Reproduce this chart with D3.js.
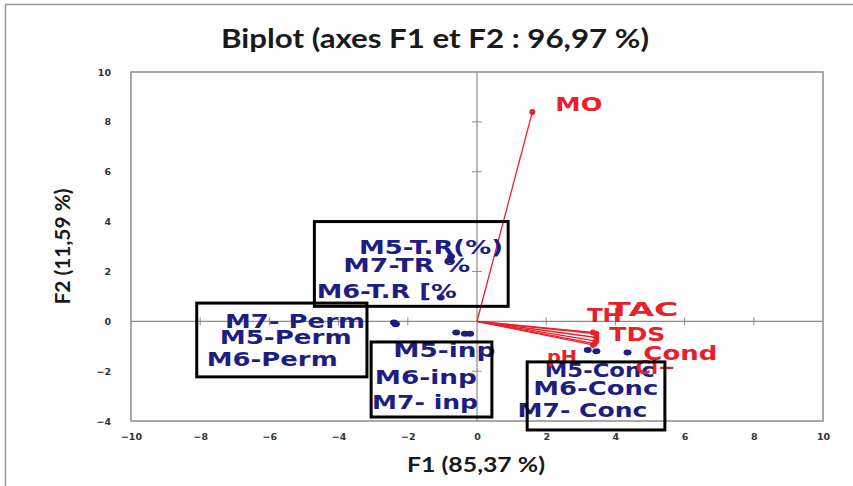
<!DOCTYPE html>
<html>
<head>
<meta charset="utf-8">
<script src="https://cdn.jsdelivr.net/npm/d3@7"></script>
<style>
  body { margin: 0; background: #fff; }
  svg { display: block; }
</style>
</head>
<body>
<svg id="chart" width="853" height="486"></svg>
<script>
// PCA biplot: observation scores (blue) and variable loadings (red) on F1/F2

// Observations
const obsNames = ["M5-T.R(%)", "M7-TR %", "M6-T.R [%", "M7- Perm", "M5-Perm", "M6-Perm",
                  "M5-inp", "M6-inp", "M7- inp", "M5-Conc", "M6-Conc", "M7- Conc"];
const obsF1 = [-0.75, -0.8, -1.05, -2.4, -2.35, -2.35, -0.6, -0.35, -0.2, 3.2, 3.45, 4.35];
const obsF2 = [2.6, 2.45, 0.95, -0.05, -0.1, -0.12, -0.45, -0.5, -0.5, -1.15, -1.2, -1.25];

// Variables
const varNames = ["MO", "TH", "TAC", "TDS", "Cond", "Cl−", "pH"];
const varF1 = [1.6, 3.35, 3.45, 3.45, 3.45, 3.4, 3.35];
const varF2 = [8.4, -0.45, -0.5, -0.65, -0.8, -0.9, -0.95];

// Axis ticks
const xTicks = [-10, -8, -6, -4, -2, 0, 2, 4, 6, 8, 10];
const yTicks = [-4, -2, 0, 2, 4, 6, 8, 10];

// Group frames, in F1/F2 units
const groupNames = ["T.R", "Perm", "inp", "Conc"];
const groupF1Min = [-4.7, -8.1, -3.06, 1.45];
const groupF1Max = [0.9, -3.18, 0.43, 5.43];
const groupF2Min = [0.6, -2.23, -3.84, -4.36];
const groupF2Max = [4.0, 0.73, -0.83, -1.63];

const titleText = "Biplot (axes F1 et F2 : 96,97 %)";
const xTitle = "F1 (85,37 %)";
const yTitle = "F2 (11,59 %)";

// Label placement (pixel offsets from each mark, rendered text width)
const obsLabelLayout = [
  { dx: -92, dy: -2, w: 144 }, { dx: -106, dy: 12, w: 127 }, { dx: -124, dy: 0, w: 140 },
  { dx: -169, dy: 5, w: 140 }, { dx: -176, dy: 20, w: 132 }, { dx: -189, dy: 42, w: 131 },
  { dx: -63, dy: 24, w: 102 }, { dx: -90, dy: 50, w: 102 }, { dx: -98, dy: 75, w: 106 },
  { dx: -43, dy: 27, w: 110 }, { dx: -63, dy: 44, w: 125 }, { dx: -110, dy: 65, w: 130 }
];
const varLabelLayout = [
  { dx: 23, dy: -1, w: 47 }, { dx: -6, dy: -11, w: 35 }, { dx: 12, dy: -18, w: 70 },
  { dx: 13, dy: 4, w: 56 }, { dx: 47, dy: 19, w: 74 }, { dx: 41, dy: 30, w: 40 },
  { dx: -46, dy: 18, w: 30 }
];

const svg = d3.select("#chart");
const W = 853, H = 486;
const plot = { left: 131, right: 823, top: 72, bottom: 421 };

const x = d3.scaleLinear().domain([-10, 10]).range([plot.left, plot.right]);
const y = d3.scaleLinear().domain([-4, 10]).range([plot.bottom, plot.top]);

const navy = "#1e1e82";
const red = "#e8202a";
const grey = "#8c8c8c";

// outer frame
svg.append("rect").attr("x", 5.5).attr("y", 4.5).attr("width", W + 10).attr("height", H + 10)
  .attr("fill", "none").attr("stroke", "#9a9a9a").attr("stroke-width", 1.5);

// title
svg.append("text").attr("x", 435).attr("y", 48).attr("text-anchor", "middle")
  .attr("textLength", 428).attr("lengthAdjust", "spacingAndGlyphs")
  .attr("font-family", "Lato, sans-serif").attr("font-weight", "bold").attr("font-size", 26)
  .attr("fill", "#1a1a1a").text(titleText);

// plot frame
svg.append("rect").attr("x", plot.left).attr("y", plot.top)
  .attr("width", plot.right - plot.left).attr("height", plot.bottom - plot.top)
  .attr("fill", "none").attr("stroke", grey).attr("stroke-width", 1.5);

// zero lines
svg.append("line").attr("x1", x(0)).attr("x2", x(0)).attr("y1", plot.top).attr("y2", plot.bottom)
  .attr("stroke", grey).attr("stroke-width", 1.2);
svg.append("line").attr("x1", plot.left).attr("x2", plot.right).attr("y1", y(0)).attr("y2", y(0))
  .attr("stroke", grey).attr("stroke-width", 1.2);

// tick marks crossing the zero lines
svg.append("g").selectAll("line").data(xTicks.filter(d => d !== 0 && d !== -10 && d !== 10)).join("line")
  .attr("x1", d => x(d)).attr("x2", d => x(d)).attr("y1", y(0) - 4).attr("y2", y(0) + 4)
  .attr("stroke", grey).attr("stroke-width", 1);
svg.append("g").selectAll("line").data(yTicks.filter(d => d !== 0 && d !== -4 && d !== 10)).join("line")
  .attr("x1", x(0) - 5).attr("x2", x(0) + 5).attr("y1", d => y(d)).attr("y2", d => y(d))
  .attr("stroke", grey).attr("stroke-width", 1);

// tick labels at the frame edges
const xAxis = d3.axisBottom(x).tickValues(xTicks).tickSize(0).tickPadding(10).tickFormat(d3.format("d"));
const gx = svg.append("g").attr("transform", `translate(0,${plot.bottom + 2})`).call(xAxis);
gx.select(".domain").remove();
gx.selectAll("text").attr("font-family", "'DejaVu Sans', sans-serif").attr("font-weight", "bold")
  .attr("font-size", 9.5).attr("fill", "#333");

const yAxis = d3.axisLeft(y).tickValues(yTicks).tickSize(0).tickPadding(20).tickFormat(d3.format("d"));
const gy = svg.append("g").attr("transform", `translate(${plot.left},0)`).call(yAxis);
gy.select(".domain").remove();
gy.selectAll("text").attr("font-family", "'DejaVu Sans', sans-serif").attr("font-weight", "bold")
  .attr("font-size", 9.5).attr("fill", "#333");

// axis titles
svg.append("text").attr("x", 476).attr("y", 472).attr("text-anchor", "middle")
  .attr("textLength", 138).attr("lengthAdjust", "spacingAndGlyphs")
  .attr("font-family", "Lato, sans-serif").attr("font-weight", "bold").attr("font-size", 21)
  .attr("fill", "#1a1a1a").text(xTitle);
svg.append("text").attr("transform", `translate(70,${y(3)}) rotate(-90)`).attr("text-anchor", "middle")
  .attr("textLength", 116).attr("lengthAdjust", "spacingAndGlyphs")
  .attr("font-family", "Lato, sans-serif").attr("font-weight", "bold").attr("font-size", 21)
  .attr("fill", "#1a1a1a").text(yTitle);

// variable vectors
const vars = varNames.map((n, i) => ({ name: n, f1: varF1[i], f2: varF2[i], lay: varLabelLayout[i] }));
svg.append("g").selectAll("line").data(vars).join("line")
  .attr("x1", x(0)).attr("y1", y(0)).attr("x2", d => x(d.f1)).attr("y2", d => y(d.f2))
  .attr("stroke", red).attr("stroke-width", 1.3);
svg.append("g").selectAll("circle").data(vars).join("circle")
  .attr("cx", d => x(d.f1)).attr("cy", d => y(d.f2)).attr("r", 3).attr("fill", red);

// observations
const obs = obsNames.map((n, i) => ({ name: n, f1: obsF1[i], f2: obsF2[i], lay: obsLabelLayout[i] }));
svg.append("g").selectAll("ellipse").data(obs).join("ellipse")
  .attr("cx", d => x(d.f1)).attr("cy", d => y(d.f2)).attr("rx", 4).attr("ry", 3).attr("fill", navy);

// observation labels
svg.append("g").selectAll("text").data(obs).join("text")
  .attr("x", d => x(d.f1) + d.lay.dx).attr("y", d => y(d.f2) + d.lay.dy)
  .attr("textLength", d => d.lay.w).attr("lengthAdjust", "spacingAndGlyphs")
  .attr("font-family", "'DejaVu Sans', sans-serif").attr("font-weight", "bold").attr("font-size", 19)
  .attr("fill", navy).text(d => d.name);

// variable labels
svg.append("g").selectAll("text").data(vars).join("text")
  .attr("x", d => x(d.f1) + d.lay.dx).attr("y", d => y(d.f2) + d.lay.dy)
  .attr("textLength", d => d.lay.w).attr("lengthAdjust", "spacingAndGlyphs")
  .attr("font-family", "'DejaVu Sans', sans-serif").attr("font-weight", "bold")
  .attr("font-size", d => d.name === "pH" ? 17 : 20)
  .attr("fill", red).text(d => d.name);

// group frames
const groups = groupNames.map((n, i) => ({
  name: n, x0: groupF1Min[i], x1: groupF1Max[i], y0: groupF2Min[i], y1: groupF2Max[i]
}));
svg.append("g").selectAll("rect").data(groups).join("rect")
  .attr("x", d => x(d.x0)).attr("y", d => y(d.y1))
  .attr("width", d => x(d.x1) - x(d.x0)).attr("height", d => y(d.y0) - y(d.y1))
  .attr("fill", "none").attr("stroke", "#000").attr("stroke-width", 3);
</script>
</body>
</html>
